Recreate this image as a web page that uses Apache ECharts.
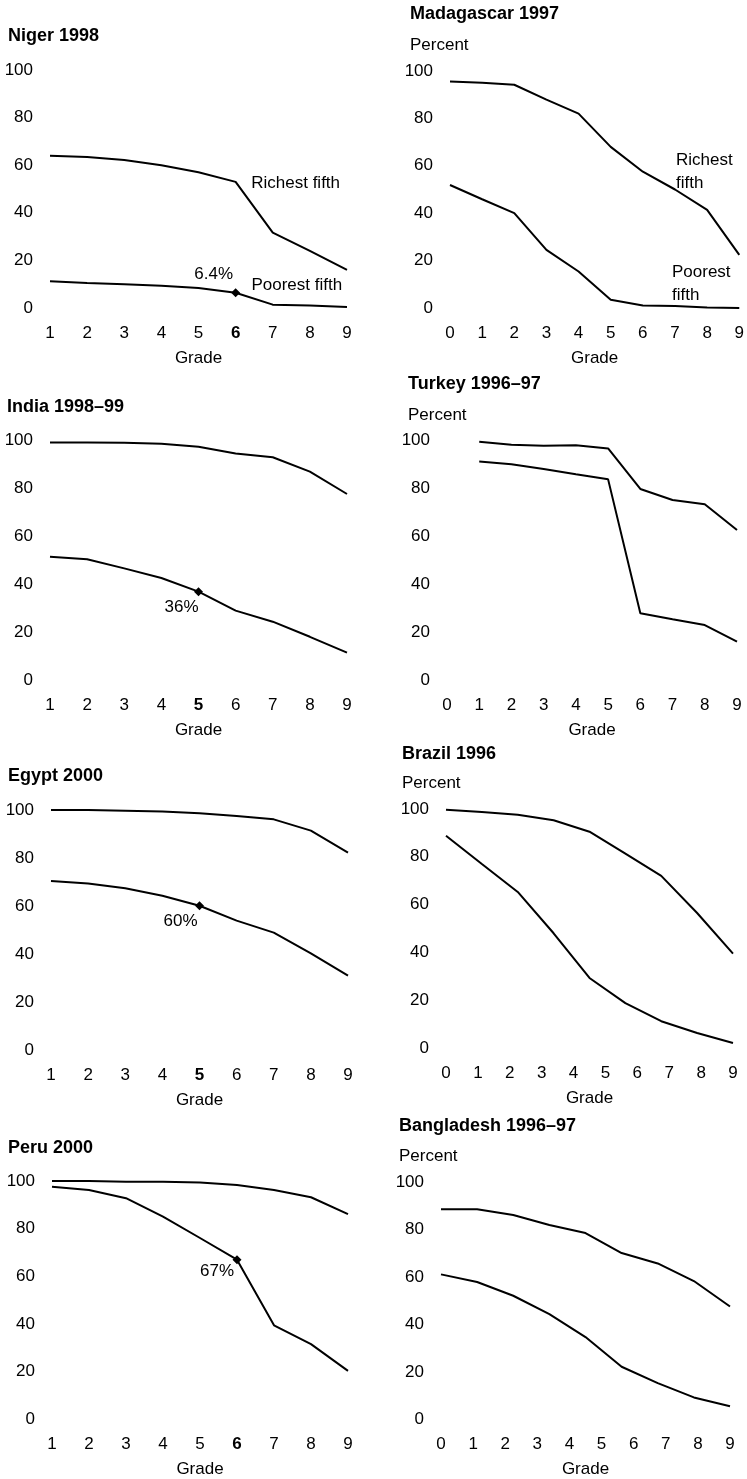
<!DOCTYPE html>
<html><head><meta charset="utf-8">
<script src="https://cdn.jsdelivr.net/npm/echarts@6/dist/echarts.min.js"></script>
<style>html,body{margin:0;padding:0;background:#fff}#c{width:747px;height:1479px}</style>
</head><body><div id="c"></div>
<script>
const FONT = "'Liberation Sans',Arial,sans-serif";

// ---- tick labels ----
const gradesFrom1 = [1, 2, 3, 4, 5, 6, 7, 8, 9];
const gradesFrom0 = [0, 1, 2, 3, 4, 5, 6, 7, 8, 9];
const yTicks = [0, 20, 40, 60, 80, 100];

// ---- series values (percent) ----
const nigerRich = [64, 63.4, 62.2, 60, 57, 53, 31.7, 24, 16];
const nigerPoor = [11.2, 10.5, 10, 9.3, 8.4, 6.4, 1.4, 1, 0.4];
const madaRich = [95.6, 95, 94.2, 87.9, 82, 68, 57.5, 50, 41.4, 22.4];
const madaPoor = [51.9, 45.9, 40, 24.5, 15.4, 3.5, 1.1, 0.8, 0.2, 0];
const indiaRich = [99, 99, 98.9, 98.4, 97.2, 94.4, 92.8, 86.8, 77.5];
const indiaPoor = [51.4, 50.3, 46.5, 42.5, 36.8, 28.9, 24.3, 18, 11.4];
const turkeyRich = [99.3, 98, 97.6, 97.8, 96.5, 79.6, 75, 73.2, 62.5];
const turkeyPoor = [91, 89.9, 87.9, 85.7, 83.6, 27.8, 25.3, 22.9, 16];
const egyptRich = [100, 100, 99.7, 99.4, 98.6, 97.5, 96.1, 91.4, 82.2];
const egyptPoor = [70.4, 69.4, 67.4, 64.3, 60.1, 53.9, 48.9, 40.3, 31];
const brazilRich = [99.7, 98.7, 97.6, 95.3, 90.5, 81.3, 72, 56.5, 39.5];
const brazilPoor = [88.8, 77, 65.3, 48, 29.3, 18.8, 11.2, 6.3, 2.1];
const peruRich = [100, 100, 99.7, 99.7, 99.4, 98.3, 96.2, 93.2, 86.1];
const peruPoor = [97.6, 96.2, 92.8, 85.1, 76.1, 67, 39.5, 31.6, 20.4];
const bangRich = [88.5, 88.5, 86.1, 81.9, 78.5, 70.1, 65.7, 58.3, 47.6];
const bangPoor = [61.1, 57.9, 52.1, 44.4, 34.7, 22.2, 15.3, 9.3, 5.6];

// ---- panels ----
const panels = [
  {key: 'niger', title: 'Niger 1998', percent: false, ticks: gradesFrom1, bold: 6, dataX: gradesFrom1, rich: nigerRich, poor: nigerPoor,
    notes: [{s: 'rich', i: 5, text: 'Richest fifth'}, {s: 'poor', i: 5, text: '6.4%', marker: true}, {s: 'poor', i: 6, text: 'Poorest fifth'}]},
  {key: 'mada', title: 'Madagascar 1997', percent: true, ticks: gradesFrom0, bold: null, dataX: gradesFrom0, rich: madaRich, poor: madaPoor,
    notes: [{s: 'rich', i: 7, text: 'Richest\nfifth'}, {s: 'poor', i: 7, text: 'Poorest\nfifth'}]},
  {key: 'india', title: 'India 1998\u201399', percent: false, ticks: gradesFrom1, bold: 5, dataX: gradesFrom1, rich: indiaRich, poor: indiaPoor,
    notes: [{s: 'poor', i: 4, text: '36%', marker: true}]},
  {key: 'turkey', title: 'Turkey 1996\u201397', percent: true, ticks: gradesFrom0, bold: null, dataX: gradesFrom1, rich: turkeyRich, poor: turkeyPoor, notes: []},
  {key: 'egypt', title: 'Egypt 2000', percent: false, ticks: gradesFrom1, bold: 5, dataX: gradesFrom1, rich: egyptRich, poor: egyptPoor,
    notes: [{s: 'poor', i: 4, text: '60%', marker: true}]},
  {key: 'brazil', title: 'Brazil 1996', percent: true, ticks: gradesFrom0, bold: null, dataX: null, rich: brazilRich, poor: brazilPoor, notes: []},
  {key: 'peru', title: 'Peru 2000', percent: false, ticks: gradesFrom1, bold: 6, dataX: gradesFrom1, rich: peruRich, poor: peruPoor,
    notes: [{s: 'poor', i: 5, text: '67%', marker: true}]},
  {key: 'bang', title: 'Bangladesh 1996\u201397', percent: true, ticks: gradesFrom0, bold: null, dataX: null, rich: bangRich, poor: bangPoor, notes: []}
];

// ---- layout (pixels) ----
const layout = {
  niger:  {left: 50, top: 70, width: 297, height: 238, tx: 8, ty: 37,
           offs: {'rich5': [60, 1], 'poor5': [-22, -18], 'poor6': [24, -19]}},
  mada:   {left: 450, top: 71, width: 290, height: 237, tx: 410, ty: 15, py: 47,
           offs: {'rich7': [1, -18], 'poor7': [-3, -22]}},
  india:  {left: 50, top: 440, width: 297, height: 240, tx: 7, ty: 408, offs: {'poor4': [-17, 16]}},
  turkey: {left: 447, top: 440, width: 290, height: 240, tx: 408, ty: 385, py: 417, offs: {}},
  egypt:  {left: 51, top: 810, width: 297, height: 240, tx: 8, ty: 777, offs: {'poor4': [-19, 16]}},
  brazil: {left: 446, top: 809, width: 287, height: 239, tx: 402, ty: 755, py: 785, offs: {}},
  peru:   {left: 52, top: 1181, width: 296, height: 240, tx: 8, ty: 1149, offs: {'poor5': [-20, 12]}},
  bang:   {left: 441, top: 1182, width: 289, height: 240, tx: 399, ty: 1127, py: 1158, offs: {}}
};

const FS = 17;
const txt = {fontFamily: FONT, fontSize: FS, color: '#000'};
const option = {animation: false, backgroundColor: '#fff', textStyle: {fontFamily: FONT},
  grid: [], xAxis: [], yAxis: [], series: [], graphic: []};

panels.forEach((p, gi) => {
  const L = layout[p.key];
  option.grid.push({left: L.left, top: L.top, width: L.width, height: L.height});
  const xi = option.xAxis.length;
  const boldTick = p.bold;
  option.xAxis.push({
    type: 'value', gridIndex: gi, min: p.ticks[0], max: p.ticks[p.ticks.length - 1], interval: 1,
    name: 'Grade', nameLocation: 'middle', nameGap: 50,
    nameTextStyle: Object.assign({verticalAlign: 'middle'}, txt),
    axisLine: {show: false}, axisTick: {show: false}, splitLine: {show: false},
    axisLabel: Object.assign({margin: 25, verticalAlign: 'middle',
      formatter: v => (v === boldTick ? '{b|' + v + '}' : String(v)),
      rich: {b: Object.assign({fontWeight: 'bold'}, txt)}}, txt)
  });
  let dataAxis = xi;
  if (!p.dataX) {
    option.xAxis.push({type: 'category', gridIndex: gi, show: false, boundaryGap: false,
      data: p.rich.map((_, k) => String(k + 1))});
    dataAxis = xi + 1;
  }
  option.yAxis.push({
    type: 'value', gridIndex: gi, min: yTicks[0], max: yTicks[yTicks.length - 1], interval: yTicks[1] - yTicks[0],
    axisLine: {show: false}, axisTick: {show: false}, splitLine: {show: false},
    axisLabel: Object.assign({margin: 17}, txt)
  });
  ['rich', 'poor'].forEach(s => {
    const data = p[s].map((v, k) => {
      const base = p.dataX ? [p.dataX[k], v] : v;
      const note = p.notes.find(n => n.s === s && n.i === k);
      if (!note) return base;
      const multi = note.text.indexOf('\n') >= 0;
      return {
        value: base,
        symbol: note.marker ? 'diamond' : 'circle',
        symbolSize: note.marker ? 9 : 1,
        itemStyle: {color: '#000'},
        label: Object.assign({show: true, position: 'inside', formatter: note.text,
          offset: L.offs[s + k], align: multi ? 'left' : 'center', lineHeight: 23}, txt)
      };
    });
    option.series.push({
      type: 'line', name: s === 'rich' ? 'Richest fifth' : 'Poorest fifth',
      xAxisIndex: dataAxis, yAxisIndex: gi, data: data, symbol: 'none', clip: false, silent: true,
      lineStyle: {color: '#000', width: 2}, itemStyle: {color: '#000'}
    });
  });
  option.graphic.push({type: 'text', left: L.tx, top: L.ty - 10,
    style: {text: p.title, fontFamily: FONT, fontSize: 18, fontWeight: 'bold', fill: '#000'}});
  if (p.percent) {
    option.graphic.push({type: 'text', left: L.tx, top: L.py - 10,
      style: {text: 'Percent', fontFamily: FONT, fontSize: FS, fill: '#000'}});
  }
});

const chart = echarts.init(document.getElementById('c'), null, {renderer: 'canvas'});
chart.setOption(option);
</script>
</body></html>
